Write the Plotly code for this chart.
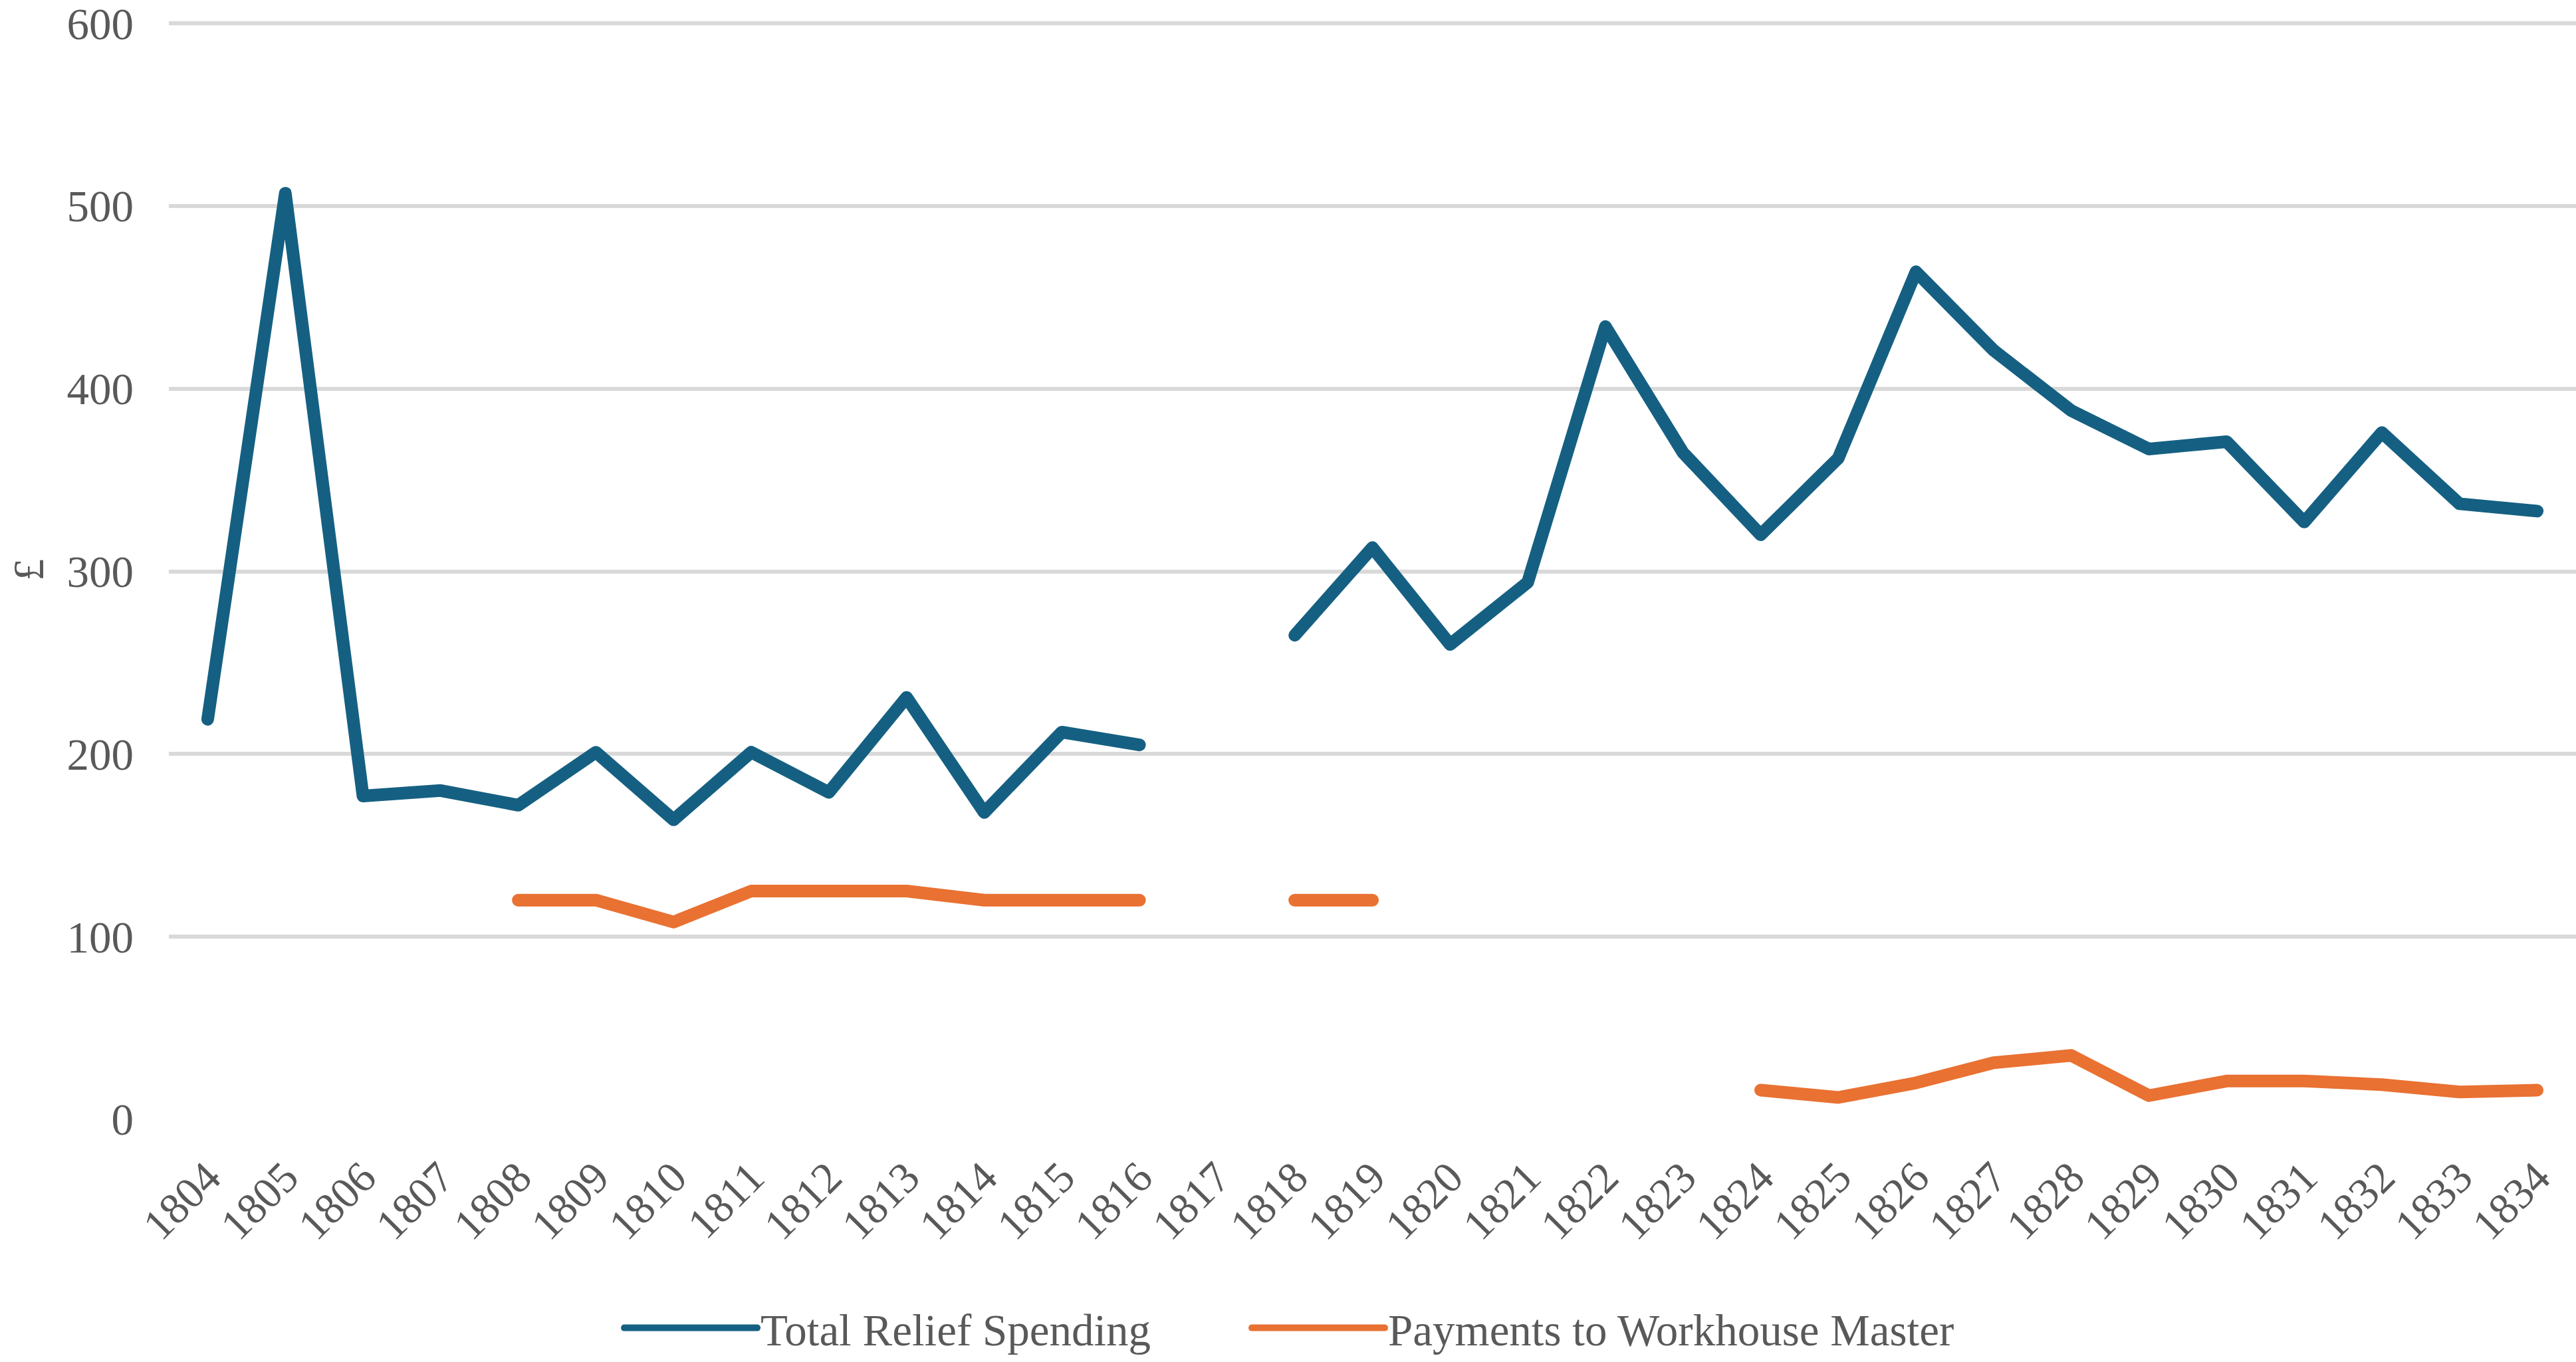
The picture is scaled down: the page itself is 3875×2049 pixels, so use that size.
import plotly.graph_objects as go

years = [str(y) for y in range(1804, 1835)]
total_relief = [219, 507, 177, 180, 172, 201, 164, 201, 179, 231, 168, 212, 205, None,
                265, 313, 260, 294, 434, 365, 320, 362, 464, 421, 388, 367, 371, 327, 376, 337, 333]
workhouse_master = [None, None, None, None, 120, 120, 108, 125, 125, 125, 120, 120, 120, None,
                    120, 120, None, None, None, None, 16, 12, 20, 31, 35, 13, 21, 21, 19, 15, 16]
y_ticks = [0, 100, 200, 300, 400, 500, 600]

FONT = "Liberation Serif"
GREY = "#595959"

fig = go.Figure()
fig.add_trace(go.Scatter(x=years, y=total_relief, mode="lines", name="Total Relief Spending",
                         line=dict(color="#156082", width=19), connectgaps=False, legend="legend"))
fig.add_trace(go.Scatter(x=years, y=workhouse_master, mode="lines", name="Payments to Workhouse Master",
                         line=dict(color="#E97132", width=19), connectgaps=False, legend="legend2"))

legend_common = dict(orientation="h", xanchor="left", y=-0.19, yanchor="middle",
                     font=dict(family=FONT, size=67, color=GREY), itemwidth=200,
                     bgcolor="rgba(0,0,0,0)")

fig.update_layout(
    width=3875, height=2049,
    margin=dict(l=254, r=0, t=31, b=354),
    paper_bgcolor="white", plot_bgcolor="white",
    font=dict(family=FONT, color=GREY, size=66),
    showlegend=True,
    legend=dict(x=0.1878, **legend_common),
    legend2=dict(x=0.4485, **legend_common),
    annotations=[dict(text="£", xref="paper", yref="paper", x=-0.0585, y=0.5,
                      xanchor="center", yanchor="middle", textangle=-90, showarrow=False,
                      font=dict(family=FONT, size=66, color=GREY))],
)
fig.update_xaxes(type="category", range=[-0.5, 30.5], showgrid=False, showline=False,
                 zeroline=False, tickangle=-45, tickfont=dict(family=FONT, size=66, color=GREY),
                 ticks="", automargin=False, ticklabelstandoff=34)
fig.update_yaxes(range=[0, 601.5], tickvals=y_ticks, showgrid=True, gridcolor="#D9D9D9",
                 gridwidth=6, zeroline=False, showline=False, ticks="", automargin=False,
                 tickfont=dict(family=FONT, size=67, color=GREY), ticklabelstandoff=52,
                 ticklabeloverflow="allow")

post = """
document.querySelectorAll('.scatterlayer .js-line, .legendlines path').forEach(function(p){
  p.style.strokeLinecap='round'; p.style.strokeLinejoin='round';
});
"""
fig.write_html("out.html", post_script=post)
